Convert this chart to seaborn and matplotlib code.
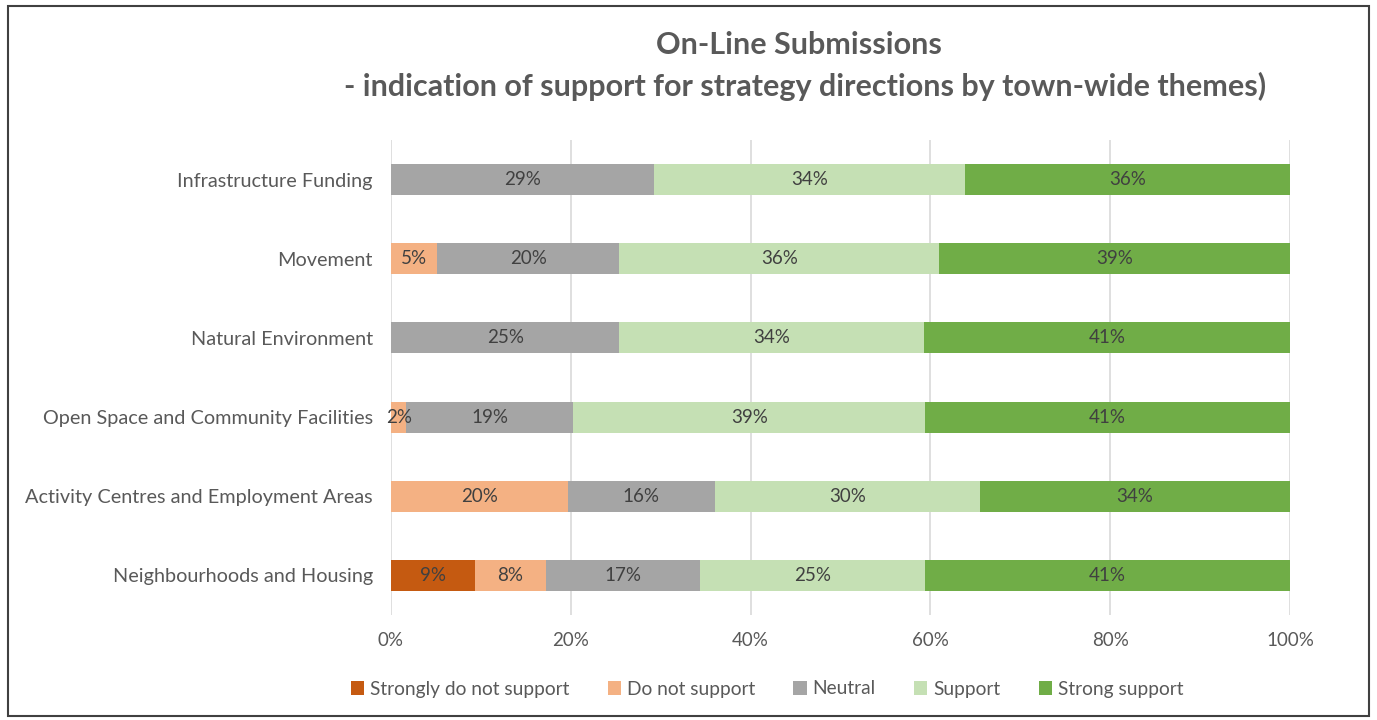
import numpy as np
import pandas as pd
import seaborn as sns
import matplotlib.pyplot as plt
from matplotlib.patches import Rectangle, Patch

# themes, top to bottom as shown
themes = [
    "Infrastructure Funding",
    "Movement",
    "Natural Environment",
    "Open Space and Community Facilities",
    "Activity Centres and Employment Areas",
    "Neighbourhoods and Housing",
]
responses = ["Strongly do not support", "Do not support", "Neutral", "Support", "Strong support"]
colors = ["#C55A11", "#F4B183", "#A5A5A5", "#C5E0B4", "#70AD47"]

# percentages
strongly_do_not = [0.0, 0.0, 0.0, 0.0, 0.0, 9.3]
do_not = [0.0, 5.1, 0.0, 1.7, 19.7, 7.9]
neutral = [29.3, 20.3, 25.4, 18.6, 16.3, 17.2]
support = [34.5, 35.6, 33.9, 39.1, 29.5, 25.0]
strong = [36.2, 39.0, 40.7, 40.6, 34.5, 40.6]

sns.set_theme(style="white")
plt.rcParams["font.family"] = ["Lato", "DejaVu Sans"]
txt = "#595959"

df = pd.DataFrame({
    "theme": themes,
    responses[0]: strongly_do_not,
    responses[1]: do_not,
    responses[2]: neutral,
    responses[3]: support,
    responses[4]: strong,
})
cum = df[responses].cumsum(axis=1)

fig = plt.figure(figsize=(13.77, 7.2), dpi=100)
ax = fig.add_axes([391 / 1377, 1 - 615 / 720, 899 / 1377, 475 / 720])

# draw stacks back to front so each segment shows
for resp, col in reversed(list(zip(responses, colors))):
    sns.barplot(x=cum[resp], y=df["theme"], color=col, width=0.39,
                orient="h", ax=ax, saturation=1, linewidth=0)

for i, th in enumerate(themes):
    left = 0.0
    for resp in responses:
        v = df.loc[i, resp]
        if v > 0:
            ax.text(left + v / 2, i, f"{round(v):.0f}%", ha="center", va="center",
                    fontsize=13.5, color="#404040")
        left += v

ax.set_xlim(0, 100)
ax.set_ylim(len(themes) - 0.5, -0.5)
ax.set_xticks(np.arange(0, 101, 20))
ax.set_xticklabels([f"{t}%" for t in range(0, 101, 20)])
ax.set_xlabel("")
ax.set_ylabel("")
ax.grid(axis="x", color="#D9D9D9", linewidth=1.2)
ax.set_axisbelow(True)
for s in ax.spines.values():
    s.set_visible(False)
ax.tick_params(axis="both", length=0, labelcolor=txt)
ax.tick_params(axis="y", pad=13, labelsize=14.3)
ax.tick_params(axis="x", pad=12, labelsize=13.5)

fig.text(799 / 1377, 1 - 45 / 720, "On-Line Submissions", ha="center", va="center",
         fontsize=22, fontweight="bold", color=txt)
fig.text(805 / 1377, 1 - 86 / 720, "- indication of support for strategy directions by town-wide themes)",
         ha="center", va="center", fontsize=22, fontweight="bold", color=txt)

handles = [Patch(facecolor=c, edgecolor="none") for c in colors]
fig.legend(handles, responses, loc="center", bbox_to_anchor=(767 / 1377, 1 - 689 / 720),
           ncol=5, frameon=False, fontsize=13.8, labelcolor=txt, handlelength=0.7,
           handleheight=0.7, handletextpad=0.3, columnspacing=2.0)

fig.patches.append(Rectangle((8 / 1377, 4 / 720), 1361 / 1377, 710 / 720, fill=False,
                             edgecolor="#404040", linewidth=1.5, transform=fig.transFigure))

fig.savefig("out.png", dpi=100)
